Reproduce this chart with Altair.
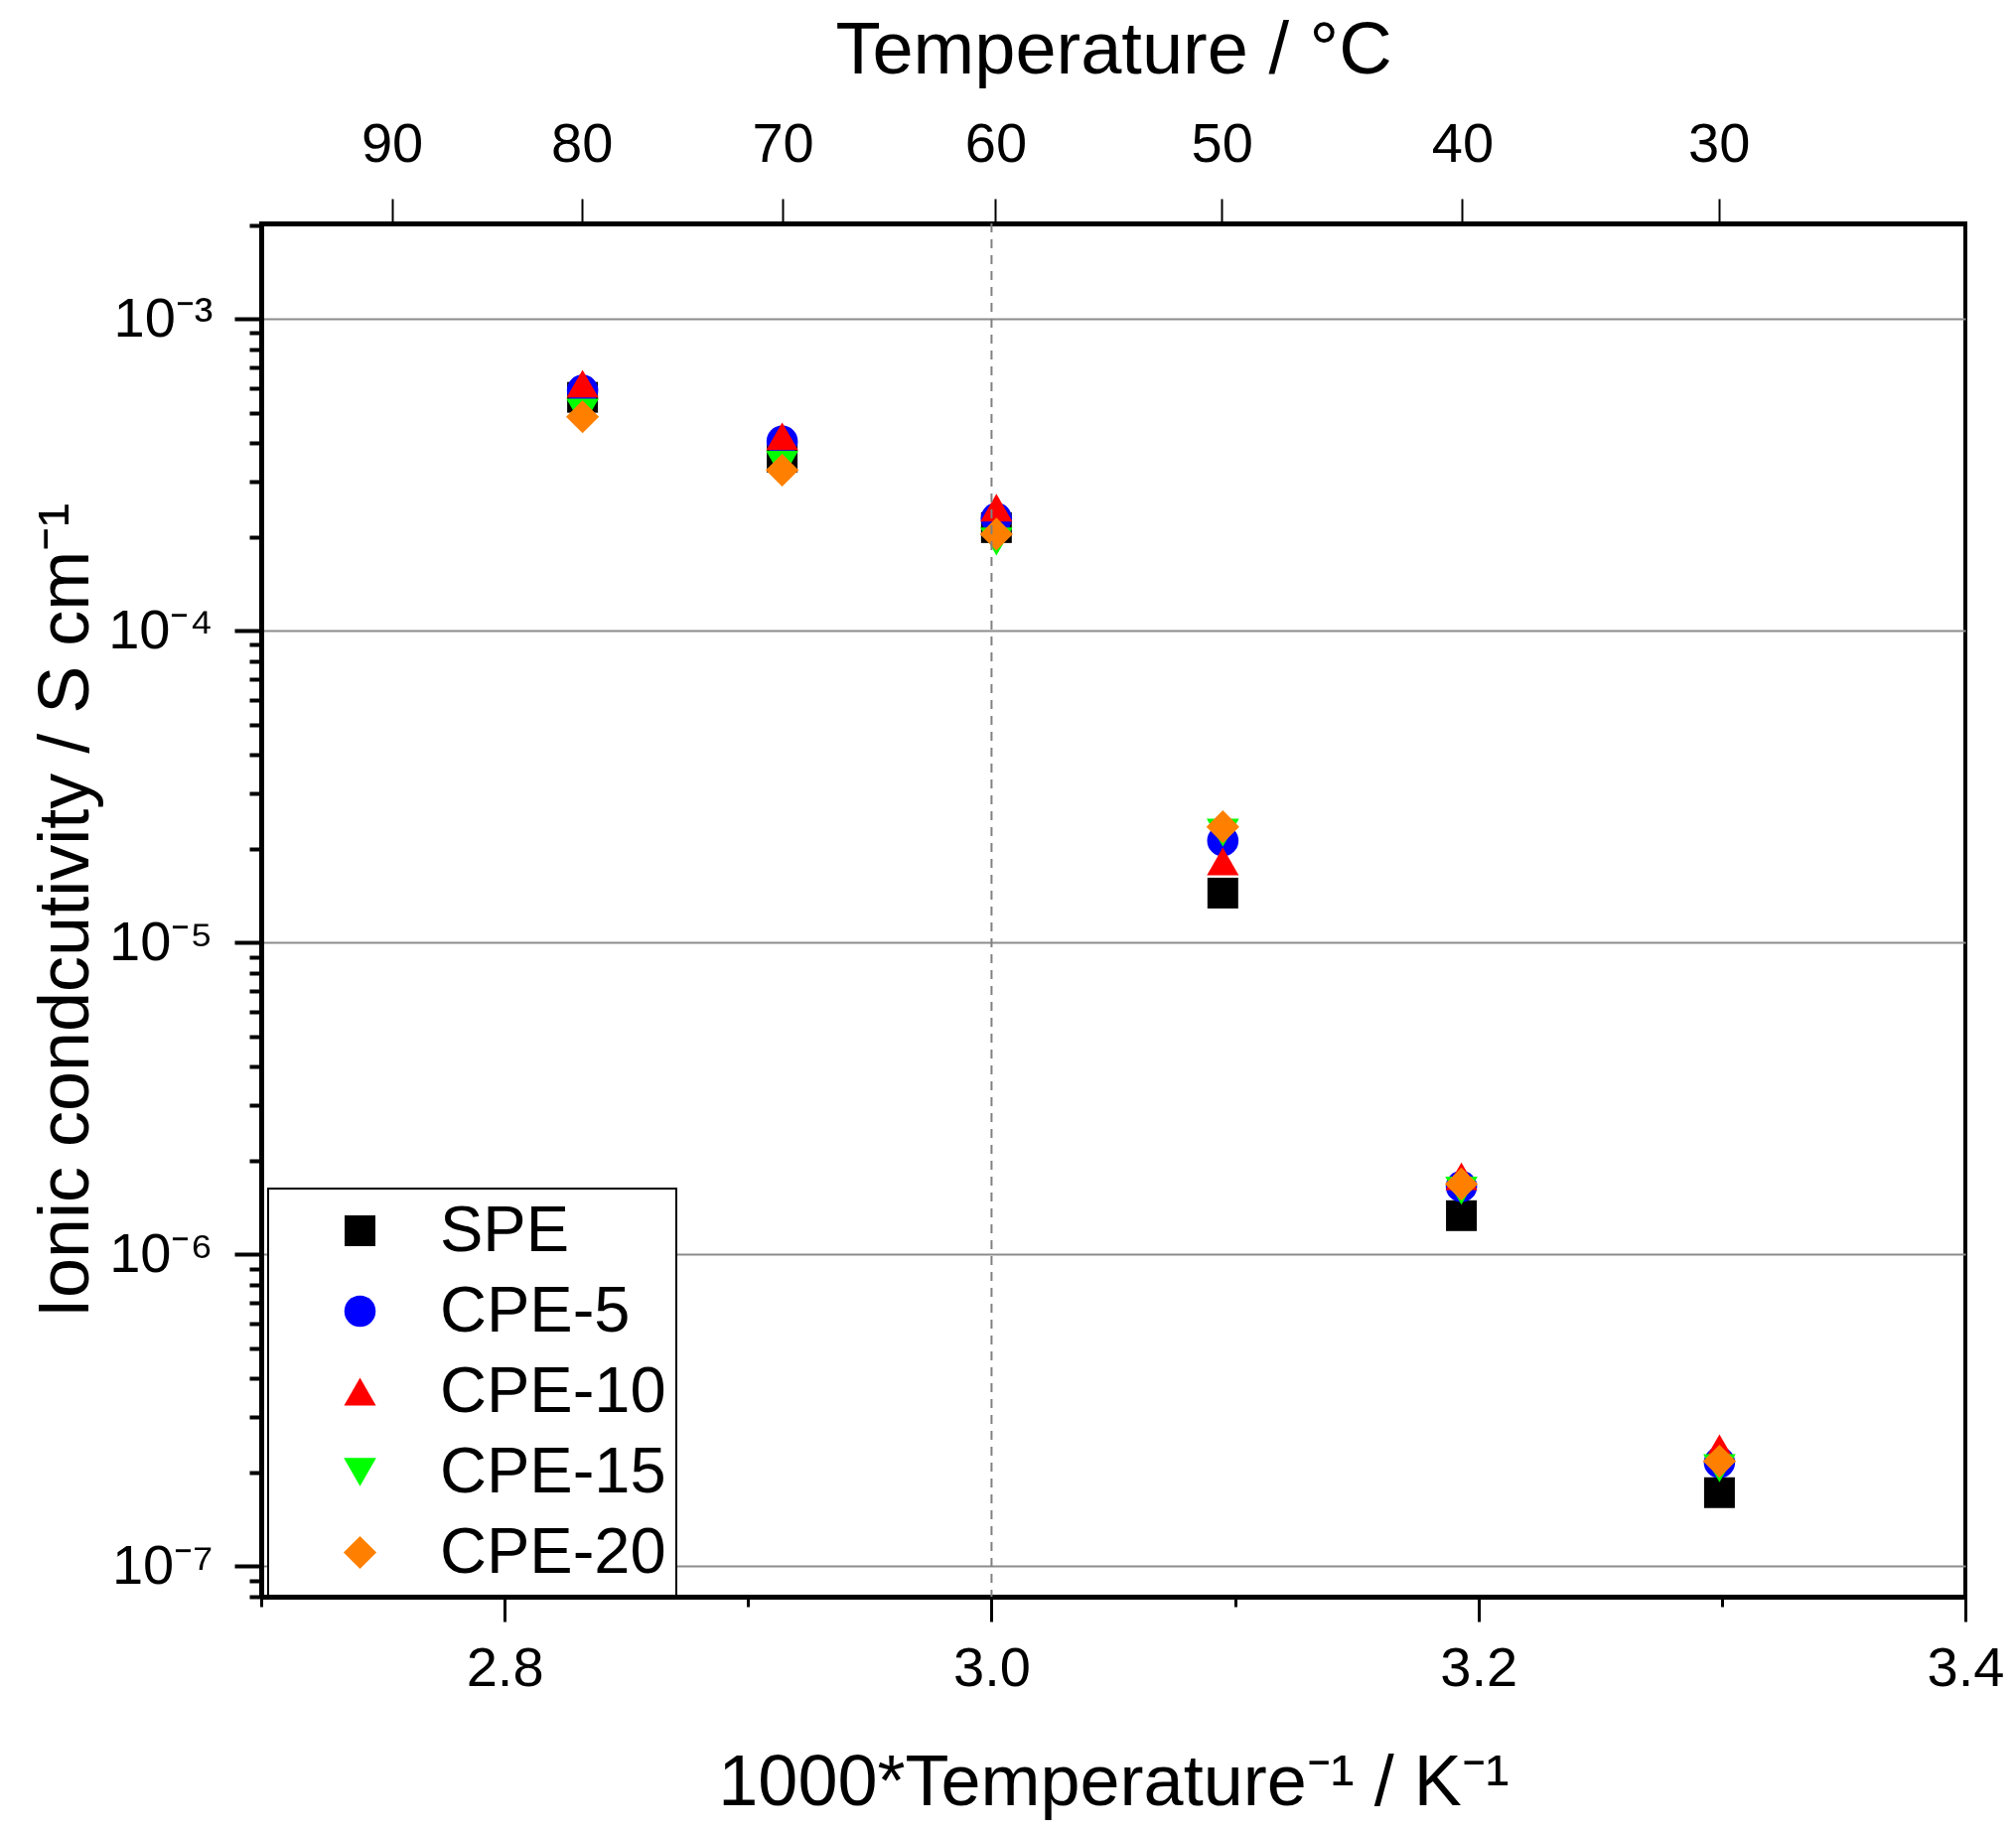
import altair as alt
import pandas as pd

# ---- data ----
inv_T = [2.832, 2.914, 3.002, 3.095, 3.193, 3.299]          # 1000/T (K^-1)
series = ["SPE", "CPE-5", "CPE-10", "CPE-15", "CPE-20"]
spe = [5.6e-4, 3.6e-4, 2.14e-4, 1.44e-5, 1.33e-6, 1.72e-7]
cpe5 = [5.9e-4, 4.05e-4, 2.29e-4, 2.12e-5, 1.65e-6, 2.15e-7]
cpe10 = [6.2e-4, 4.2e-4, 2.48e-4, 1.82e-5, 1.78e-6, 2.39e-7]
cpe15 = [5.0e-4, 3.4e-4, 1.93e-4, 2.25e-5, 1.60e-6, 2.06e-7]
cpe20 = [4.85e-4, 3.27e-4, 2.04e-4, 2.35e-5, 1.68e-6, 2.17e-7]
colors = ["#000000", "#0000ff", "#ff0000", "#00ff00", "#ff8000"]
shapes = ["square", "circle", "triangle-up", "triangle-down", "diamond"]
sizes = [960, 1100, 1650, 1550, 1700]

top_temps_c = [90, 80, 70, 60, 50, 40, 30]
x_ticks = [2.7, 2.8, 2.9, 3.0, 3.1, 3.2, 3.3, 3.4]
x_domain = [2.7, 3.4]
y_domain = [7.98e-8, 2.023e-3]
y_decades = [-8, -7, -6, -5, -4, -3]
dash_x = [3.0]

# ---- tables ----
values = [spe, cpe5, cpe10, cpe15, cpe20]
rows = []
for i, (name, vals) in enumerate(zip(series, values)):
    for x, v in zip(inv_T, vals):
        rows.append({"x": x, "sigma": v, "series": name, "ord": i})
df = pd.DataFrame(rows)
df_dash = pd.DataFrame({"x": dash_x})

y_ticks = [m * 10.0 ** e for e in y_decades for m in range(1, 10)
           if y_domain[0] <= m * 10.0 ** e <= y_domain[1]]
top_tick_vals = [1000.0 / (t + 273.15) for t in top_temps_c]

FONT = "Liberation Sans"
sup_map = str.maketrans("-0123456789", "⁻⁰¹²³⁴⁵⁶⁷⁸⁹")
lg = "log(datum.value)/LN10"
is_major_y = f"abs({lg} - round({lg})) < 1e-6"
exp_parts = " : ".join(
    f"round({lg}) == {e} ? '10{str(e).translate(sup_map)}'" for e in y_decades
)
y_label_expr = f"{is_major_y} ? ({exp_parts} : '') : ''"

is_major_x = "abs(datum.value*5 - round(datum.value*5)) < 1e-6"

x_scale = alt.Scale(domain=x_domain, nice=False, zero=False)

legend = alt.Legend(
    title=None, orient="none", legendX=7, legendY=972,
    padding=10, strokeColor="black", fillColor="white",
    labelFont=FONT, labelFontSize=65, labelColor="black", labelLimit=500,
    symbolOffset=50, labelOffset=48, rowPadding=15,
    symbolStrokeWidth=0, symbolOpacity=1,
)

points = alt.Chart(df).mark_point(filled=True, opacity=1, strokeWidth=0).encode(
    x=alt.X("x:Q", scale=x_scale, axis=alt.Axis(
        orient="bottom", values=x_ticks,
        title="1000*Temperature⁻¹ / K⁻¹", titleFontSize=72, titleY=209,
        titleBaseline="alphabetic",
        labelExpr=f"{is_major_x} ? format(datum.value, '.1f') : ''",
        labelFontSize=56, labelPadding=20, labelBaseline="top",
        tickSize={"condition": {"test": is_major_x, "value": 25}, "value": 10},
        tickWidth=3, grid=False, labelFlush=False,
    )),
    y=alt.Y("sigma:Q", scale=alt.Scale(type="log", domain=y_domain, nice=False),
            axis=alt.Axis(
                orient="left", values=y_ticks,
                title="Ionic condcutivity / S cm⁻¹", titleFontSize=72,
                titleX=-175, titleBaseline="alphabetic",
                labelExpr=y_label_expr, labelFontSize=56, labelPadding=22,
                labelBaseline="middle", labelFlush=False,
                tickSize={"condition": {"test": is_major_y, "value": 27}, "value": 12},
                tickWidth=4,
                grid=True, gridColor="#8c8c8c", gridWidth=2,
                gridOpacity={"condition": {"test": is_major_y, "value": 1}, "value": 0},
            )),
    color=alt.Color("series:N", scale=alt.Scale(domain=series, range=colors), legend=legend),
    shape=alt.Shape("series:N", scale=alt.Scale(domain=series, range=shapes), legend=legend),
    size=alt.Size("series:N", scale=alt.Scale(domain=series, range=sizes), legend=legend),
    order=alt.Order("ord:Q"),
)

dash = alt.Chart(df_dash).mark_rule(color="#808080", strokeWidth=2, strokeDash=[9, 7]).encode(
    x=alt.X("x:Q", scale=x_scale, axis=alt.Axis(
        orient="top", values=top_tick_vals,
        labelExpr="format(1000/datum.value - 273.15, '.0f')",
        title="Temperature / °C", titleFontSize=74, titleY=-152,
        titleBaseline="alphabetic",
        labelFontSize=56, labelPadding=26, tickSize=25, tickWidth=2,
        grid=False, labelFlush=False,
    )),
)

chart = alt.layer(points, dash).resolve_axis(x="independent").properties(
    width=1716, height=1383,
    padding={"left": 255, "top": 217, "right": 40, "bottom": 225},
    autosize=alt.AutoSizeParams(type="none"),
).configure_view(
    stroke="black", strokeWidth=4,
).configure_axis(
    domainColor="black", domainWidth=5, tickColor="black",
    labelFont=FONT, titleFont=FONT, labelColor="black", titleColor="black",
    titleFontWeight="normal",
).configure_legend(
    strokeWidth=2,
)

chart.save("out.html", embed_options={"renderer": "svg", "actions": False})
